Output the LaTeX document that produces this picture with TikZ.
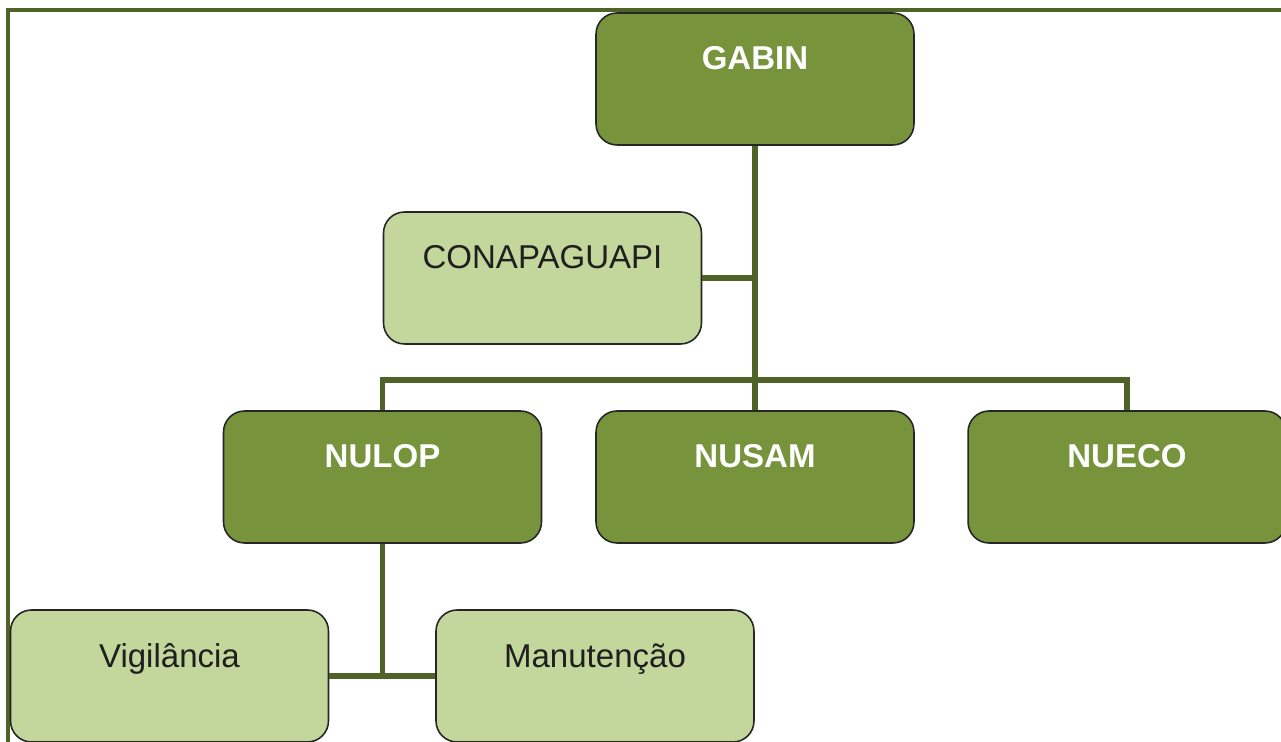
\documentclass[tikz,border=0pt]{standalone}
\usepackage{fontspec}
\setmainfont{Liberation Sans}
\definecolor{darkgreen}{HTML}{77933C}
\definecolor{lightgreen}{HTML}{C3D69B}
\definecolor{linegreen}{HTML}{4F6228}
\definecolor{boxline}{HTML}{262626}
\begin{document}
\begin{tikzpicture}[x=0.02cm,y=-0.02cm]
\tikzstyle{unit}=[draw=boxline,line width=0.9pt,rounded corners=0.42cm,inner sep=0pt,
  minimum width=6.36cm,text height=1.14cm,text depth=1.5cm,font=\fontsize{18.8}{22}\selectfont]
\tikzstyle{head}=[unit,fill=darkgreen,text=white,font=\fontsize{18.8}{22}\selectfont\bfseries]
\tikzstyle{sub}=[unit,fill=lightgreen,text=black!88]
\tikzstyle{link}=[draw=linegreen,line width=0.11cm]
\useasboundingbox (0,0) rectangle (1281,742);
\clip (0,0) rectangle (1281,742);

% outer frame
\draw[draw=linegreen,line width=0.08cm] (8,745) -- (8,10.5) -- (1285,10.5);

\node[head] at (755,79) (gabin) {GABIN};
\node[sub] at (542.5,278) (conap) {CONAPAGUAPI};
\node[head] at (382.5,477) (nulop) {NULOP};
\node[head] at (755,477) (nusam) {NUSAM};
\node[head] at (1127,477) (nueco) {NUECO};
\node[sub] at (169.5,676) (vigil) {Vigilância};
\node[sub] at (595,676) (manut) {Manutenção};
\coordinate (bus) at (755,380);

\draw[link] (gabin) -- (nusam);
\draw[link] (conap.east) -- (conap.east -| gabin.south);
\draw[link] (nulop.north) |- (bus) -| (nueco.north);
\draw[link] (nulop) -- (nulop.south |- vigil.east);
\draw[link] (vigil.east) -- (manut.west);
\end{tikzpicture}
\end{document}
